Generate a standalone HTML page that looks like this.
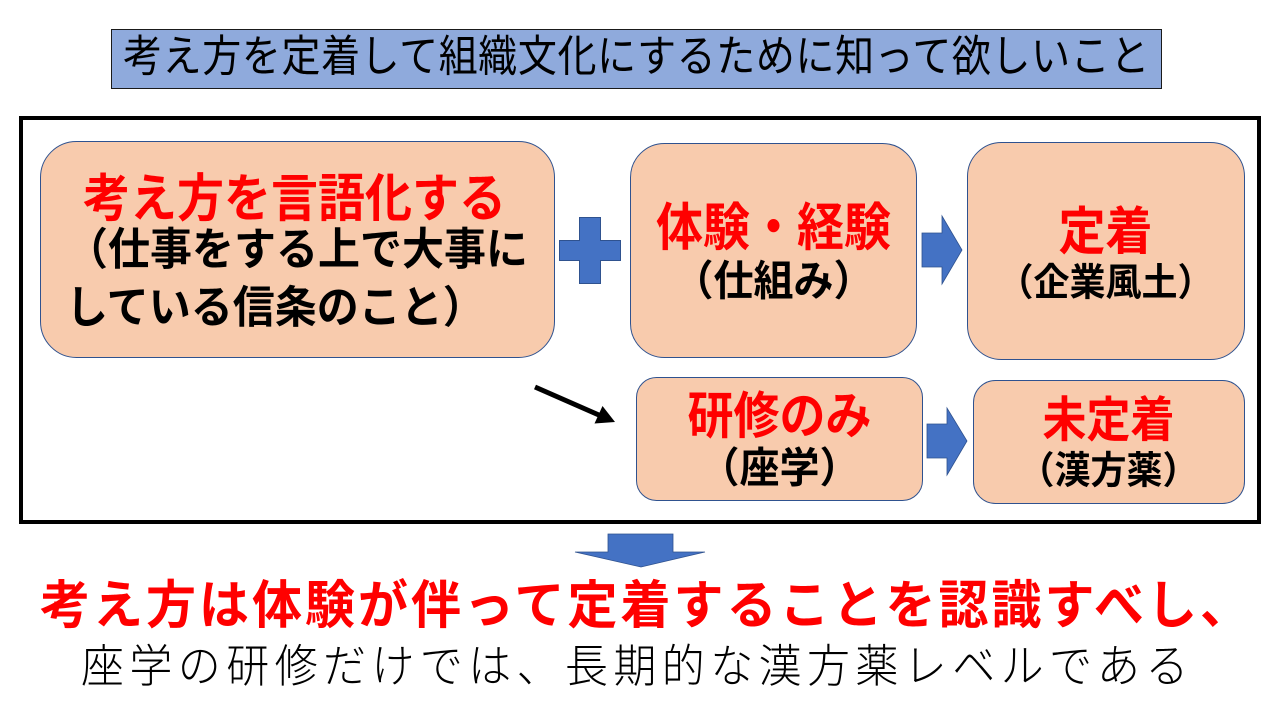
<!DOCTYPE html>
<html><head><meta charset="utf-8">
<style>
html,body{margin:0;padding:0;background:#fff;}
body{width:1280px;height:720px;position:relative;overflow:hidden;font-family:"Liberation Sans","Noto Sans CJK JP",sans-serif;}
svg{position:absolute;left:0;top:0;}
.t{position:absolute;white-space:nowrap;font-family:"Liberation Sans","Noto Sans CJK JP",sans-serif;}
.c{text-align:center;}
.r{color:#FF0000;font-weight:bold;transform:scaleY(1.1);}
.k{color:#000;font-weight:bold;transform:scaleY(1.05);}
</style></head>
<body>
<svg width="1280" height="720" viewBox="0 0 1280 720">
  <rect x="111.5" y="29.5" width="1050" height="59" fill="#8FAADC" stroke="#1a1a1a" stroke-width="1"/>
  <rect x="21" y="118" width="1238" height="404" fill="none" stroke="#000" stroke-width="4"/>
  <rect x="40.5" y="141.5" width="514" height="216" rx="36" ry="36" fill="#F8CBAD" stroke="#2F528F" stroke-width="1"/>
  <rect x="630.5" y="143.5" width="286" height="214" rx="34" ry="34" fill="#F8CBAD" stroke="#2F528F" stroke-width="1"/>
  <rect x="967.5" y="142.5" width="277" height="217" rx="34" ry="34" fill="#F8CBAD" stroke="#2F528F" stroke-width="1"/>
  <rect x="636.5" y="377.5" width="286" height="123" rx="20" ry="20" fill="#F8CBAD" stroke="#2F528F" stroke-width="1"/>
  <rect x="973.5" y="380.5" width="271" height="123" rx="22" ry="22" fill="#F8CBAD" stroke="#2F528F" stroke-width="1"/>
  <path d="M579.5 217.5 H600.5 V240.5 H620.5 V260.5 H600.5 V283.5 H579.5 V260.5 H559.5 V240.5 H579.5 Z" fill="#4472C4" stroke="#2F528F" stroke-width="1"/>
  <path d="M922 233 H942 V216 L962 250 L942 284 V267 H922 Z" fill="#4472C4" stroke="#2F528F" stroke-width="0.8"/>
  <path d="M927 424 H947 V408 L967 441 L947 475 V458 H927 Z" fill="#4472C4" stroke="#2F528F" stroke-width="0.8"/>
  <path d="M608 534 H673 V552 H705 L641 567 L575 552 H608 Z" fill="#4472C4" stroke="#2F528F" stroke-width="0.8"/>
  <line x1="535" y1="387" x2="600" y2="415.5" stroke="#000" stroke-width="5"/>
  <polygon points="615,422 594.5,423.5 602.5,406" fill="#000"/>
</svg>

<div class="t c" style="left:111px;top:29px;width:1051px;height:60px;line-height:58px;font-size:39px;letter-spacing:0.6px;color:#000;transform:scaleY(1.12);">考え方を定着して組織文化にするために知って欲しいこと</div>

<div class="t c r" style="left:40px;top:172px;width:509px;line-height:54px;font-size:47px;">考え方を言語化する</div>
<div class="t k" style="left:66px;top:227px;line-height:46px;font-size:42px;">（仕事をする上で大事に</div>
<div class="t k" style="left:66px;top:285px;line-height:46px;font-size:42px;">している信条のこと）</div>

<div class="t c r" style="left:630px;top:201px;width:287px;line-height:54px;font-size:47px;">体験・経験</div>
<div class="t c k" style="left:630px;top:259px;width:287px;line-height:46px;font-size:40px;">（仕組み）</div>

<div class="t c r" style="left:967px;top:205px;width:277px;line-height:54px;font-size:47px;">定着</div>
<div class="t c k" style="left:967px;top:262px;width:277px;line-height:42px;font-size:36px;">（企業風土）</div>

<div class="t c r" style="left:636px;top:389px;width:287px;line-height:54px;font-size:46px;">研修のみ</div>
<div class="t c k" style="left:636px;top:446px;width:287px;line-height:46px;font-size:40px;">（座学）</div>

<div class="t c r" style="left:973px;top:394px;width:271px;line-height:54px;font-size:44px;">未定着</div>
<div class="t c k" style="left:973px;top:450px;width:271px;line-height:42px;font-size:36px;">（漢方薬）</div>

<div class="t r" style="left:40px;top:578px;line-height:56px;font-size:50px;letter-spacing:3px;transform:scaleY(1.04);">考え方は体験が伴って定着することを認識すべし、</div>
<div class="t" style="left:81px;top:643px;line-height:48px;font-size:43px;letter-spacing:5.4px;color:#000;font-weight:300;transform:scaleY(1.06);">座学の研修だけでは、長期的な漢方薬レベルである</div>
</body></html>
